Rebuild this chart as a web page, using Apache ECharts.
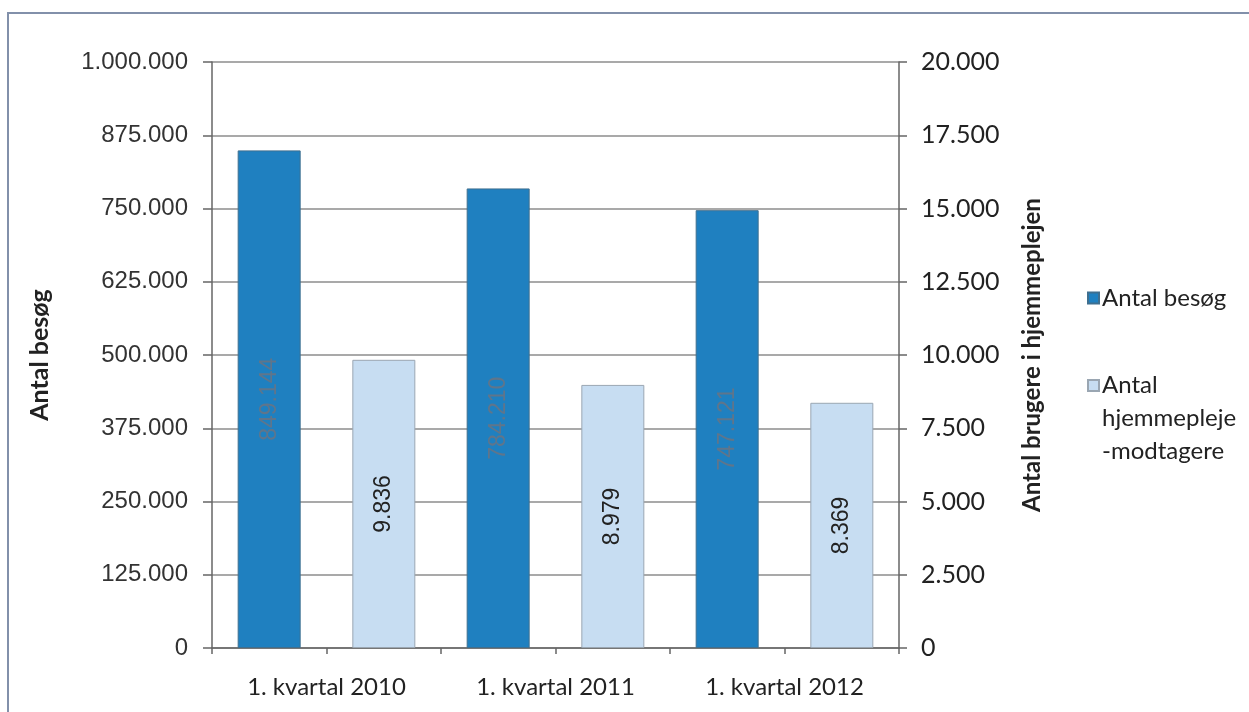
<!DOCTYPE html>
<html>
<head>
<meta charset="utf-8">
<script src="https://cdn.jsdelivr.net/npm/echarts@6/dist/echarts.min.js"></script>
<style>html,body{margin:0;padding:0;background:#fff;}#c{width:1249px;height:712px;}</style>
</head>
<body>
<div id="c"></div>
<script>
const categories = ['1. kvartal 2010', '1. kvartal 2011', '1. kvartal 2012'];
const besoeg = [849144, 784210, 747121];
const modtagere = [9836, 8979, 8369];
const leftTicks = [0, 125000, 250000, 375000, 500000, 625000, 750000, 875000, 1000000];
const rightTicks = [0, 2500, 5000, 7500, 10000, 12500, 15000, 17500, 20000];
const seriesNames = ['Antal besøg', 'Antal hjemmepleje-modtagere'];

function fmt(v) {
  return String(Math.round(v)).replace(/\B(?=(\d{3})+(?!\d))/g, '.');
}

const legendFont = { fontFamily: 'Lato', fontSize: 24, color: '#222' };

const chart = echarts.init(document.getElementById('c'));
chart.setOption({
  animation: false,
  backgroundColor: '#fff',
  graphic: [{
    type: 'rect', silent: true, z: -1,
    shape: { x: 8, y: 13, width: 1300, height: 760 },
    style: { fill: 'none', stroke: '#8290aa', lineWidth: 2 }
  }],
  grid: { left: 212, top: 62, right: 350, bottom: 64 },
  legend: [{
    data: [seriesNames[0]],
    left: 1082, top: 281,
    orient: 'vertical',
    itemWidth: 11, itemHeight: 11,
    icon: 'rect',
    textStyle: Object.assign({ padding: [0, 0, 0, -2] }, legendFont)
  }, {
    data: [seriesNames[1]],
    left: 1082, top: 364,
    orient: 'vertical',
    itemWidth: 11, itemHeight: 11,
    icon: 'rect',
    formatter: function () { return '{a|Antal}\n{b|hjemmepleje}\n{b|-modtagere}'; },
    textStyle: Object.assign({
      padding: [0, 0, 0, -2],
      rich: {
        a: Object.assign({ lineHeight: 99, height: 33, verticalAlign: 'bottom' }, legendFont),
        b: Object.assign({ lineHeight: 33 }, legendFont)
      }
    }, legendFont)
  }],
  xAxis: [{
    type: 'category',
    data: categories,
    axisLine: { lineStyle: { color: '#666', width: 1.5 } },
    axisTick: { show: false },
    axisLabel: { fontFamily: 'Lato', fontSize: 24, color: '#222', margin: 27 }
  }, {
    type: 'category',
    position: 'bottom',
    data: ['', '', '', '', '', ''],
    axisLine: { show: false },
    axisTick: { show: true, inside: false, length: 6, lineStyle: { color: '#666', width: 1.5 } },
    axisLabel: { show: false }
  }],
  yAxis: [{
    type: 'value',
    min: 0, max: 1000000, interval: 125000,
    name: 'Antal besøg',
    nameLocation: 'middle',
    nameRotate: 90,
    nameGap: 160,
    nameTextStyle: { fontFamily: 'Lato', fontWeight: 'bold', fontSize: 25, color: '#222' },
    axisLine: { show: true, lineStyle: { color: '#666', width: 1.5 } },
    axisTick: { show: true, length: 9, lineStyle: { color: '#666', width: 1.5 } },
    axisLabel: { fontFamily: 'Liberation Sans', fontSize: 24, color: '#333', margin: 24, formatter: fmt },
    splitLine: { show: true, lineStyle: { color: '#8c8c8c', width: 1.5 } }
  }, {
    type: 'value',
    min: 0, max: 20000, interval: 2500,
    name: 'Antal brugere i hjemmeplejen',
    nameLocation: 'middle',
    nameRotate: 90,
    nameGap: 121,
    nameTextStyle: { fontFamily: 'Lato', fontWeight: 'bold', fontSize: 24, color: '#222' },
    axisLine: { show: true, lineStyle: { color: '#666', width: 1.5 } },
    axisTick: { show: true, length: 8, lineStyle: { color: '#666', width: 1.5 } },
    axisLabel: { fontFamily: 'Lato', fontSize: 25, color: '#222', margin: 22, formatter: fmt },
    splitLine: { show: false }
  }],
  series: [{
    name: seriesNames[0],
    type: 'bar',
    xAxisIndex: 0, yAxisIndex: 0,
    data: besoeg,
    barWidth: 63,
    barGap: '82%',
    itemStyle: { color: '#1f80c0', borderColor: '#3f6f8f', borderWidth: 1 },
    label: {
      show: true, position: 'inside', rotate: 90,
      fontFamily: 'Liberation Sans', fontSize: 23, color: '#5f758b',
      formatter: function (p) { return fmt(p.value); }
    }
  }, {
    name: seriesNames[1],
    type: 'bar',
    xAxisIndex: 0, yAxisIndex: 1,
    data: modtagere,
    barWidth: 63,
    barGap: '82%',
    itemStyle: { color: '#c7ddf2', borderColor: '#9aa6b2', borderWidth: 1 },
    label: {
      show: true, position: 'inside', rotate: 90,
      fontFamily: 'Liberation Sans', fontSize: 23, color: '#222',
      formatter: function (p) { return fmt(p.value); }
    }
  }]
});
</script>
</body>
</html>
